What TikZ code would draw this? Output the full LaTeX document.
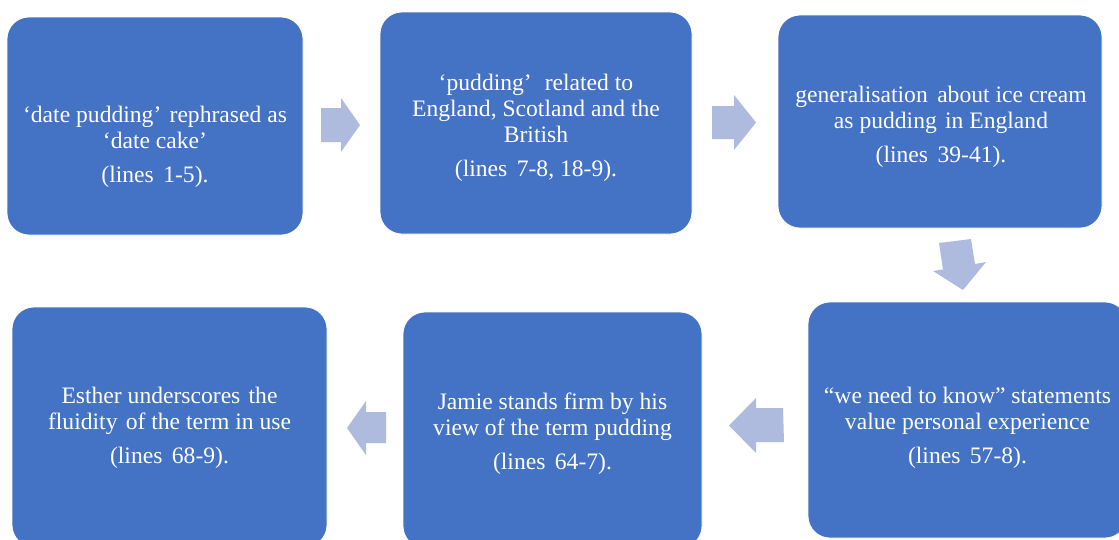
\documentclass[tikz,border=0pt]{standalone}
\usepackage{fontspec}
\setmainfont{Liberation Serif}
\definecolor{boxblue}{RGB}{68,114,196}
\definecolor{arrowblue}{RGB}{174,187,223}
\tikzset{
  box/.style={rectangle, rounded corners=22pt, fill=boxblue, draw=white, line width=0.8pt, inner sep=0pt},
  boxtext/.style={text=white, align=center, inner sep=0pt, font=\fontsize{23.6}{26}\selectfont},
  blockarrow/.style={fill=arrowblue, draw=none}
}
\begin{document}
\begin{tikzpicture}[x=1pt,y=-1pt]
\useasboundingbox (0,0) rectangle (1119,539);
\clip (0,0) rectangle (1119,539);

% process boxes
\node[box, minimum width=296pt, minimum height=218pt] (b1) at (155,126) {};
\node[box, minimum width=312pt, minimum height=222pt] (b2) at (536,123) {};
\node[box, minimum width=324pt, minimum height=213pt] (b3) at (940,121.5) {};
\node[box, minimum width=319pt, minimum height=236pt] (b4) at (967.5,420) {};
\node[box, minimum width=299pt, minimum height=236pt] (b5) at (552.5,430) {};
\node[box, minimum width=315pt, minimum height=240pt] (b6) at (169.5,427) {};

% box texts
\node[boxtext] (t1) at (155,147) {‘date pudding’\hspace{0.1em} rephrased as\\ ‘date cake’\\[8pt] (lines\hspace{0.15em} 1-5).};
\node[boxtext] (t2) at (536,127.5) {‘pudding’\hspace{0.3em} related to\\ England, Scotland and the\\ British\\[8pt] (lines\hspace{0.15em} 7-8, 18-9).};
\node[boxtext] (t3) at (941,126.5) {generalisation\hspace{0.15em} about ice cream\\ as pudding\hspace{0.1em} in England\\[8pt] (lines\hspace{0.15em} 39-41).};
\node[boxtext] (t4) at (967.5,428) {“we need to know” statements\\ value personal experience\\[8pt] (lines\hspace{0.15em} 57-8).};
\node[boxtext] (t5) at (552.5,434) {Jamie stands firm by his\\ view of the term pudding\\[8pt] (lines\hspace{0.15em} 64-7).};
\node[boxtext] (t6) at (169.5,428) {Esther underscores\hspace{0.1em} the\\ fluidity\hspace{0.1em} of the term in use\\[8pt] (lines\hspace{0.15em} 68-9).};

% block arrows between the boxes
\fill[blockarrow] (321,108) -- (341,108) -- (341,98) -- (360,125) -- (341,152) -- (341,142) -- (321,142) -- cycle;
\fill[blockarrow] (712,106) -- (734,106) -- (734,95) -- (756,122.5) -- (734,150) -- (734,139) -- (712,139) -- cycle;
\fill[blockarrow] (939,243) -- (971,239) -- (975,264) -- (986,262) -- (963,290) -- (933,271) -- (943,269.5) -- cycle;
\fill[blockarrow] (729,425.5) -- (756,398) -- (756,408) -- (783,408) -- (784,442) -- (756,442) -- (756,453) -- cycle;
\fill[blockarrow] (347,428) -- (366,401) -- (366,412) -- (386,412) -- (386,443) -- (366,443) -- (366,455) -- cycle;
\end{tikzpicture}
\end{document}
